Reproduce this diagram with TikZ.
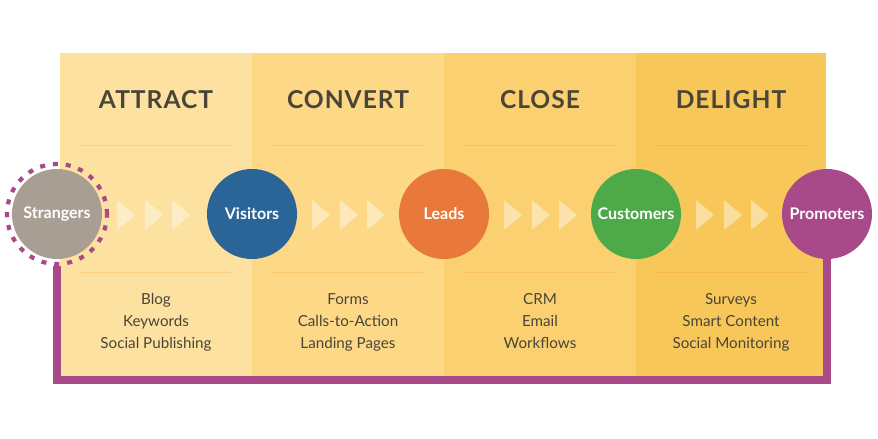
\documentclass[tikz,border=0pt]{standalone}
\usepackage{fontspec}
\setmainfont{Lato}
\definecolor{inkgray}{HTML}{4A4539}
\definecolor{attractbg}{HTML}{FDE1A0}
\definecolor{convertbg}{HTML}{FCD887}
\definecolor{closebg}{HTML}{FAD070}
\definecolor{delightbg}{HTML}{F8C75A}
\definecolor{strangergray}{HTML}{A89E94}
\definecolor{visitorblue}{HTML}{2B6597}
\definecolor{leadorange}{HTML}{E8793B}
\definecolor{customergreen}{HTML}{4EAA48}
\definecolor{promoterpurple}{HTML}{A8498A}

\begin{document}
\begin{tikzpicture}[x=0.025cm, y=-0.025cm,
  stage/.style={circle, minimum size=2.25cm, inner sep=0pt, text=white,
    font=\bfseries\fontsize{11.4}{13}\selectfont},
  phase/.style={text=inkgray,
    font=\bfseries\fontsize{17.5}{20}\selectfont\addfontfeature{LetterSpace=4}},
  tools/.style={text=inkgray, align=center, anchor=north,
    font=\fontsize{10.8}{15.6}\selectfont},
  sepline/.style={draw=orange, opacity=0.18, line width=0.6pt},
  chevron/.style={fill=white, fill opacity=0.42, rounded corners=0.6pt},
  loopline/.style={draw=promoterpurple, line width=5.6pt}
]
  \useasboundingbox (0,0) rectangle (878,439);

  % background columns
  \fill[attractbg] (60,53) rectangle (252,377);
  \fill[convertbg] (252,53) rectangle (444,377);
  \fill[closebg] (444,53) rectangle (636,377);
  \fill[delightbg] (636,53) rectangle (826,377);

  \foreach \x in {60,252,444,636}{
    \draw[sepline] (\x+20,145) -- (\x+172,145);
    \draw[sepline] (\x+20,272) -- (\x+172,272);
  }

  % phase headings
  \node[phase] (attract) at (156,100) {ATTRACT};
  \node[phase] (convert) at (348,100) {CONVERT};
  \node[phase] (close) at (540,100) {CLOSE};
  \node[phase] (delight) at (731,100) {DELIGHT};

  % stages
  \node[stage, fill=strangergray] (strangers) at (57,214) {Strangers};
  \node[stage, fill=visitorblue] (visitors) at (252,214) {Visitors};
  \node[stage, fill=leadorange] (leads) at (444,214) {Leads};
  \node[stage, fill=customergreen] (customers) at (636,214) {Customers};
  \node[stage, fill=promoterpurple] (promoters) at (827,214) {Promoters};
  \node[circle, minimum size=2.5cm, draw=promoterpurple, line width=3pt,
    dash pattern=on 3.6pt off 5.6pt] (ring) at (57,214) {};

  % chevrons between stages
  \foreach \x in {57,252,444,636}{
    \foreach \d in {69,97,124}
      \fill[chevron] (\x+\d-9,200) -- (\x+\d+9,215) -- (\x+\d-9,230) -- cycle;
  }

  % tools
  \node[tools] (attracttools) at (156,284) {\strut Blog\\Keywords\\Social Publishing};
  \node[tools] (converttools) at (348,284) {\strut Forms\\Calls-to-Action\\Landing Pages};
  \node[tools] (closetools) at (540,284) {\strut CRM\\Email\\Workflows};
  \node[tools] (delighttools) at (731,284) {\strut Surveys\\Smart Content\\Social Monitoring};

  % promoters loop back to strangers
  \draw[loopline] (promoters.south) -- ++(0,121) -| (ring.south);
\end{tikzpicture}
\end{document}
